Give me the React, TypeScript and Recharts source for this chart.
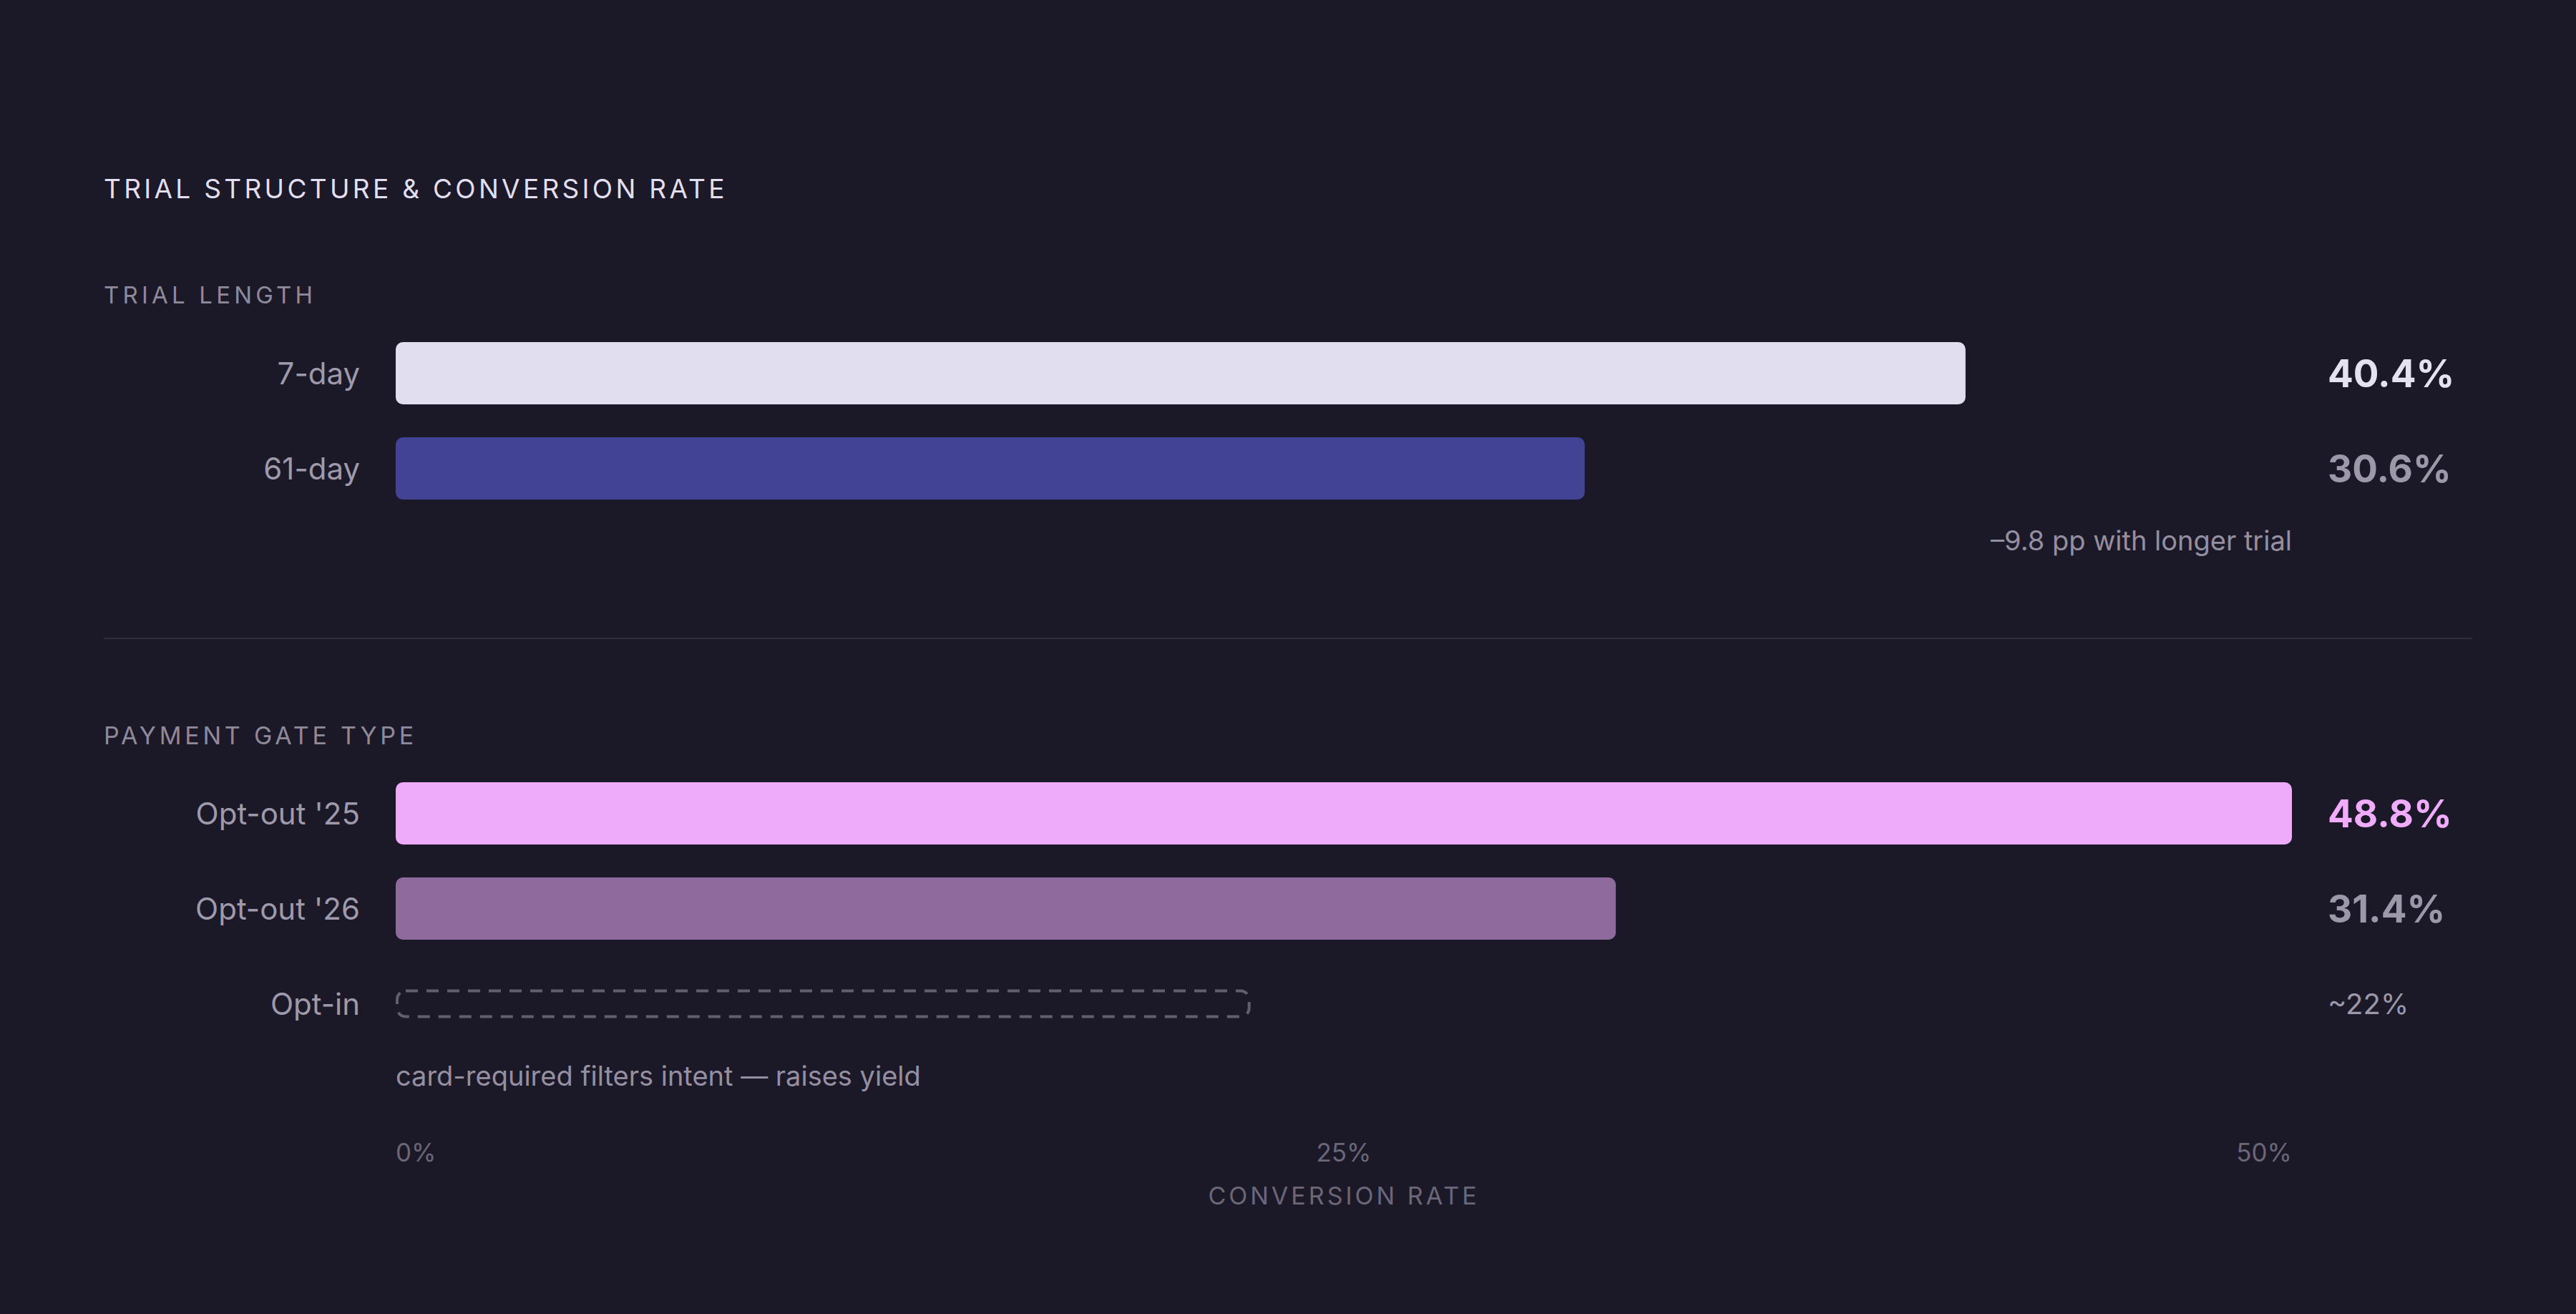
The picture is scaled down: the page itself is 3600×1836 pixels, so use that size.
import React from "react";
import { BarChart, Bar, XAxis, YAxis, LabelList } from "recharts";

const FONT = "Inter, 'Noto Sans', sans-serif";
const BG = "#1b1828";

// trial length section
const trialLabels = ["7-day", "61-day"];
const trialValues = [40.4, 30.6];
const trialValueText = ["40.4%", "30.6%"];
const trialColors = ["#e1def0", "#424395"];
const trialValueColors = ["#e4e1f1", "#9c98a9"];

// payment gate section
const gateLabels = ["Opt-out '25", "Opt-out '26", "Opt-in"];
const gateValues = [48.8, 31.4, 22];
const gateValueText = ["48.8%", "31.4%", "~22%"];
const gateColors = ["#eeabf9", "#8f6b9d", "none"];
const gateValueColors = ["#f0acfa", "#9c98a9", "#9c98a9"];
const gateEstimated = [false, false, true];

// axis
const axisTicks = [0, 25, 50];
const axisTickLabels = ["0%", "25%", "50%"];

const TITLE = "TRIAL STRUCTURE & CONVERSION RATE";
const TRIAL_HEADING = "TRIAL LENGTH";
const GATE_HEADING = "PAYMENT GATE TYPE";
const TRIAL_NOTE = "\u20139.8 pp with longer trial";
const GATE_NOTE = "card-required filters intent \u2014 raises yield";
const AXIS_TITLE = "CONVERSION RATE";

const X_MAX = Math.max(...trialValues, ...gateValues);

const PLOT_LEFT = 553;
const PLOT_RIGHT = 3203;
const ROW = 133;
const BAR = 87;

type Row = {
  label: string;
  value: number;
  text: string;
  color: string;
  textColor: string;
  estimated: boolean;
};

const trialRows: Row[] = trialLabels.map((label, i) => ({
  label,
  value: trialValues[i],
  text: trialValueText[i],
  color: trialColors[i],
  textColor: trialValueColors[i],
  estimated: false,
}));

const gateRows: Row[] = gateLabels.map((label, i) => ({
  label,
  value: gateValues[i],
  text: gateValueText[i],
  color: gateColors[i],
  textColor: gateValueColors[i],
  estimated: gateEstimated[i],
}));

function CategoryTick({ x, y, payload }: any) {
  return (
    <text x={x} y={y + 15.5} textAnchor="end" fontFamily={FONT} fontSize={42} fill="#9e9aab">
      {payload.value}
    </text>
  );
}

function BarShape(props: any) {
  const { x, y, width, height, payload } = props;
  if (payload.estimated) {
    const h = 36;
    return (
      <rect
        x={x + 2}
        y={y + height / 2 - h / 2}
        width={Math.max(width - 4, 0)}
        height={h}
        rx={12}
        fill="none"
        stroke="#625e6f"
        strokeWidth={4}
        strokeDasharray="17 12"
      />
    );
  }
  return <rect x={x} y={y} width={width} height={height} rx={10} fill={payload.color} />;
}

function makeValueLabel(rows: Row[]) {
  return function ValueLabel(props: any) {
    const { y, height, value } = props;
    const row = rows.find((r) => r.text === value);
    if (!row) return null;
    const fs = row.estimated ? 40 : 53;
    return (
      <text
        x={PLOT_RIGHT + 50}
        y={y + height / 2 + fs * 0.364}
        fontFamily={FONT}
        fontSize={fs}
        fontWeight={row.estimated ? 400 : 700}
        fill={row.textColor}
      >
        {row.text}
      </text>
    );
  };
}

function AxisTick({ x, y, payload, index }: any) {
  const anchor = index === 0 ? "start" : index === axisTicks.length - 1 ? "end" : "middle";
  return (
    <text x={x} y={y + 124} textAnchor={anchor} fontFamily={FONT} fontSize={35} fill="#6b6779">
      {axisTickLabels[axisTicks.indexOf(payload.value)]}
    </text>
  );
}

function Section({ rows, top, withAxis }: { rows: Row[]; top: number; withAxis?: boolean }) {
  const plotH = rows.length * ROW;
  const axisH = withAxis ? 240 : 0;
  return (
    <div style={{ position: "absolute", left: 0, top }}>
      <BarChart
        width={3600}
        height={plotH + axisH}
        data={rows}
        layout="vertical"
        margin={{ top: 0, right: 3600 - PLOT_RIGHT, bottom: 0, left: 0 }}
      >
        <XAxis xAxisId="bar" type="number" domain={[0, X_MAX]} hide />
        {withAxis && (
          <XAxis
            xAxisId="pct"
            type="number"
            domain={[0, 50]}
            ticks={axisTicks}
            allowDataOverflow
            axisLine={false}
            tickLine={false}
            tickSize={0}
            tickMargin={0}
            height={axisH}
            tick={<AxisTick />}
            interval={0}
          />
        )}
        <YAxis
          type="category"
          dataKey="label"
          width={PLOT_LEFT}
          axisLine={false}
          tickLine={false}
          tickSize={0}
          tickMargin={50}
          tick={<CategoryTick />}
        />
        <Bar xAxisId="bar" dataKey="value" barSize={BAR} shape={<BarShape />} isAnimationActive={false}>
          <LabelList dataKey="text" content={makeValueLabel(rows)} />
        </Bar>
      </BarChart>
    </div>
  );
}

export default function App() {
  return (
    <div
      style={{
        position: "absolute",
        left: 0,
        top: 0,
        width: 3600,
        height: 1836,
        background: BG,
        fontFamily: FONT,
        overflow: "hidden",
      }}
    >
      <svg width={3600} height={1836} style={{ position: "absolute", left: 0, top: 0 }}>
        <text x={145} y={277} fontFamily={FONT} fontSize={37} fontWeight={400} fill="#e2dff0" style={{ letterSpacing: 4.3 }}>
          {TITLE}
        </text>
        <text x={145} y={424} fontFamily={FONT} fontSize={33} fill="#8e8a9c" style={{ letterSpacing: 5.2 }}>
          {TRIAL_HEADING}
        </text>
        <text x={PLOT_RIGHT} y={769} textAnchor="end" fontFamily={FONT} fontSize={38} fill="#958fa2">
          {TRIAL_NOTE}
        </text>
        <line x1={145} x2={3455} y1={892} y2={892} stroke="#312d3e" strokeWidth={2} />
        <text x={145} y={1040} fontFamily={FONT} fontSize={34} fill="#8e8a9c" style={{ letterSpacing: 4.8 }}>
          {GATE_HEADING}
        </text>
        <text x={PLOT_LEFT} y={1517} fontFamily={FONT} fontSize={38} fill="#958fa2">
          {GATE_NOTE}
        </text>
        <text
          x={(PLOT_LEFT + PLOT_RIGHT) / 2}
          y={1683}
          textAnchor="middle"
          fontFamily={FONT}
          fontSize={34}
          fill="#6b6779"
          style={{ letterSpacing: 4 }}
        >
          {AXIS_TITLE}
        </text>
      </svg>
      <Section rows={trialRows} top={455} />
      <Section rows={gateRows} top={1070} withAxis />
    </div>
  );
}
